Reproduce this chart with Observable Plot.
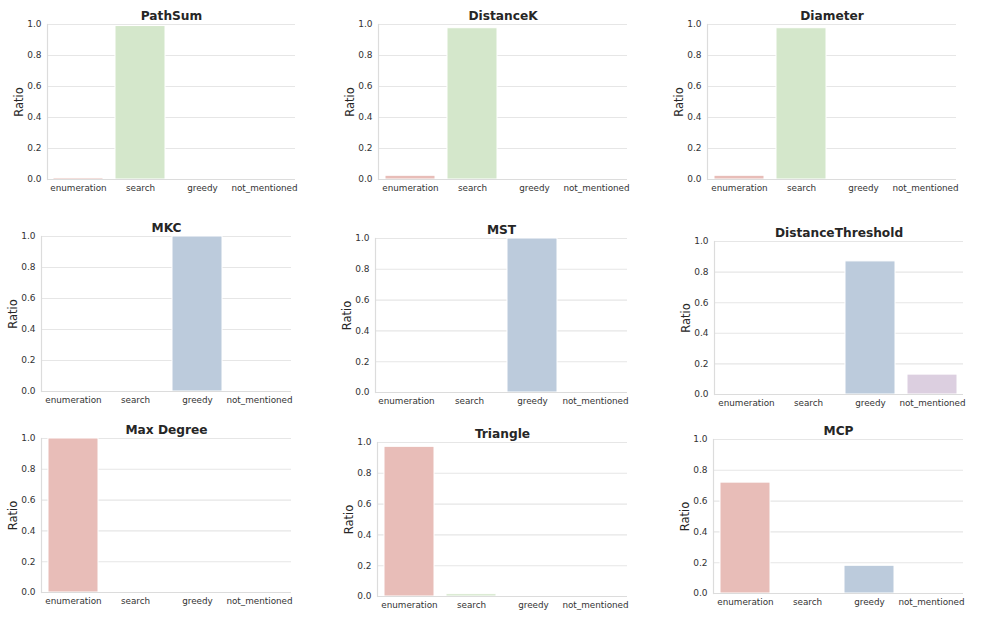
<!DOCTYPE html>
<html>
<head>
<meta charset="utf-8">
<script src="https://cdn.jsdelivr.net/npm/d3@7"></script>
<script src="https://cdn.jsdelivr.net/npm/@observablehq/plot@0.6"></script>
<style>
  html, body { margin: 0; padding: 0; background: #fff; }
  #wrap { position: relative; width: 996px; height: 619px; overflow: hidden; }
  .panel { position: absolute; }
</style>
</head>
<body>
<div id="wrap"></div>
<script>
// ---- data ----
const categories = ["enumeration", "search", "greedy", "not_mentioned"];
const tasks = ["PathSum", "DistanceK", "Diameter", "MKC", "MST", "DistanceThreshold", "Max Degree", "Triangle", "MCP"];
const enumeration  = [0.010, 0.024, 0.024, 0, 0, 0,    1.0, 0.972, 0.72];
const search       = [0.990, 0.976, 0.976, 0, 0, 0,    0,   0.015, 0];
const greedy       = [0,     0,     0,     1, 1, 0.87, 0,   0,     0.18];
const notMentioned = [0,     0,     0,     0, 0, 0.13, 0,   0.005, 0];
const yTicks = [0, 0.2, 0.4, 0.6, 0.8, 1.0];
const yLabel = "Ratio";

// ---- layout (frame edges: left, right, top(1.0), bottom(0.0)) ----
const frames = [
  [47, 295, 24, 179], [378, 627, 24, 179], [707, 956, 24, 179],
  [41, 291, 236, 391], [375, 627, 238, 392], [714, 963, 241, 394],
  [41, 291, 438, 592], [377, 627, 442, 596], [713, 963, 439, 593]
];
const palette = ["#e8bdb8", "#d4e7cb", "#bccbdc", "#dccfe0"];
const ML = 42, MR = 8, MT = 26, MB = 28;
const gridColor = "#e6e6e6";

const wrap = document.getElementById("wrap");
tasks.forEach((task, i) => {
  const [x0, x1, yT, yB] = frames[i];
  const values = [enumeration[i], search[i], greedy[i], notMentioned[i]];
  const rows = categories.map((c, j) => ({cat: c, v: values[j]}));
  const chart = Plot.plot({
    width: ML + (x1 - x0) + MR,
    height: MT + (yB - yT) + MB,
    marginLeft: ML, marginRight: MR, marginTop: MT, marginBottom: MB,
    style: {fontFamily: "DejaVu Sans, sans-serif", background: "transparent", color: "#333"},
    x: {domain: categories, paddingInner: 0.2, paddingOuter: 0.1, label: null},
    y: {domain: [0, 1], label: null},
    color: {domain: categories, range: palette},
    marks: [
      Plot.gridY(yTicks, {stroke: gridColor, strokeOpacity: 1, strokeWidth: 1.1}),
      Plot.barY(rows, {x: "cat", y: "v", fill: "cat", stroke: "white", strokeWidth: 1}),
      Plot.ruleY([0], {stroke: "#dcdcdc", strokeWidth: 1.2}),
      Plot.frame({anchor: "left", stroke: "#dcdcdc", strokeWidth: 1.2}),
      Plot.axisY(yTicks, {tickSize: 0, tickPadding: 6, tickFormat: d3.format(".1f"), fontSize: 9, fill: "#333", label: null}),
      Plot.axisX({tickSize: 0, tickPadding: 5, fontSize: 8.8, fill: "#333", label: null}),
      Plot.text([yLabel], {frameAnchor: "left", rotate: -90, dx: -33, lineAnchor: "top", textAnchor: "middle", fontSize: 11.5, fill: "#262626"}),
      Plot.text([task], {frameAnchor: "top", dy: -5, lineAnchor: "bottom", fontWeight: "bold", fontSize: 12.2, fill: "#262626"})
    ]
  });
  const div = document.createElement("div");
  div.className = "panel";
  div.style.left = (x0 - ML) + "px";
  div.style.top = (yT - MT) + "px";
  div.appendChild(chart);
  wrap.appendChild(div);
});
</script>
</body>
</html>
